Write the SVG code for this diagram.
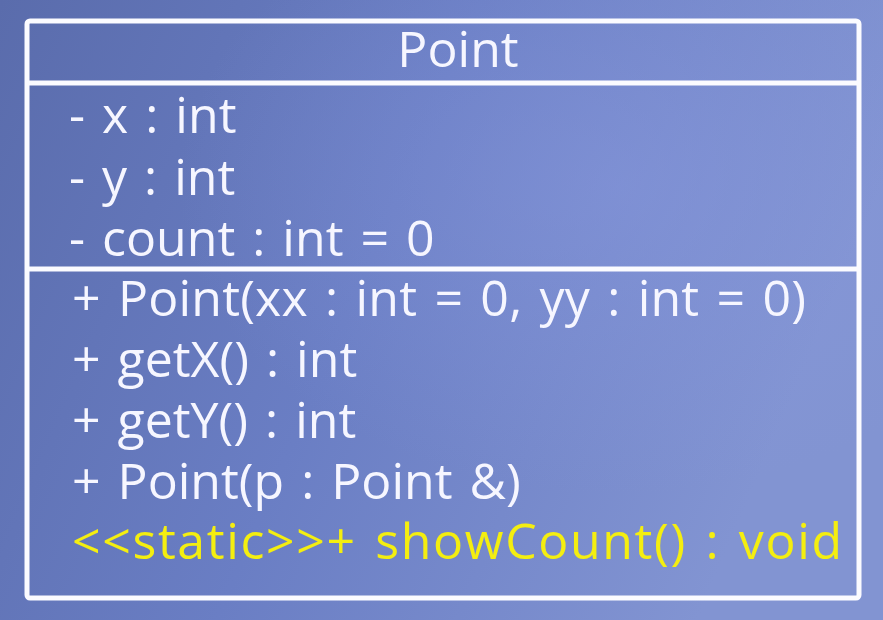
<svg xmlns="http://www.w3.org/2000/svg" width="883" height="620" viewBox="0 0 883 620">
<defs>
<linearGradient id="bg" x1="0" y1="0" x2="1" y2="0.3">
<stop offset="0" stop-color="#5a6cac"/>
<stop offset="0.5" stop-color="#6a7ec4"/>
<stop offset="1" stop-color="#8294d2"/>
</linearGradient>
<radialGradient id="glow" cx="0.7" cy="0.3" r="0.5">
<stop offset="0" stop-color="#8a9ae0" stop-opacity="0.45"/>
<stop offset="1" stop-color="#8a9ae0" stop-opacity="0"/>
</radialGradient>
<style>
.box{fill:none;stroke:#fbfbff;stroke-width:5}
.t{font-family:"Open Sans","Noto Sans","DejaVu Sans",sans-serif;font-size:50px;word-spacing:4px;fill:#f6f6ff}
.y{fill:#f4ee10}
</style>
</defs>
<rect width="883" height="620" fill="url(#bg)"/>
<rect width="883" height="620" fill="url(#glow)"/>
<g id="Point">
<rect class="box" x="27" y="21" width="832" height="577" rx="3"/>
<line class="box" x1="27" y1="83" x2="859" y2="83"/>
<line class="box" x1="27" y1="269" x2="859" y2="269"/>
<text class="t" x="458" y="67" text-anchor="middle">Point</text>
<text class="t" x="69" y="133">- x : int</text>
<text class="t" x="69" y="195">- y : int</text>
<text class="t" x="69" y="256">- count : int = 0</text>
<text class="t" x="72" y="316" textLength="734" lengthAdjust="spacing">+ Point(xx : int = 0, yy : int = 0)</text>
<text class="t" x="72" y="377">+ getX() : int</text>
<text class="t" x="72" y="438">+ getY() : int</text>
<text class="t" x="72" y="499">+ Point(p : Point &amp;)</text>
<text class="t y" x="72" y="559" textLength="770" lengthAdjust="spacing">&lt;&lt;static&gt;&gt;+ showCount() : void</text>
</g>
</svg>
